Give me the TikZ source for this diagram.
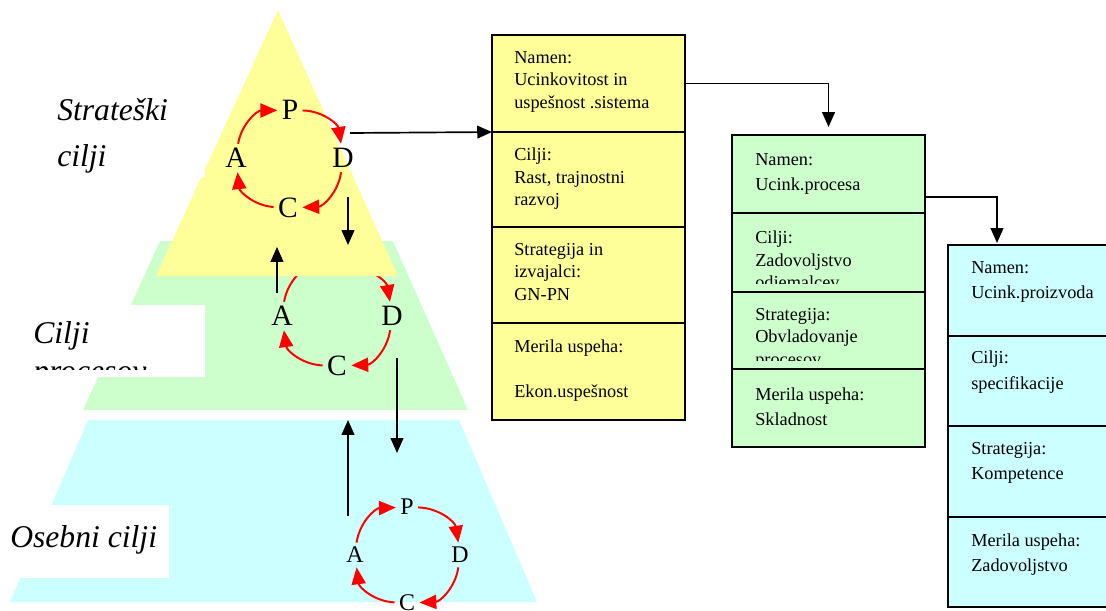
\documentclass[tikz,border=0pt]{standalone}
\usepackage{fontspec}
\setmainfont{Liberation Serif}
\usetikzlibrary{arrows.meta, positioning}
\definecolor{yellowfill}{HTML}{FFFF99}
\definecolor{greenfill}{HTML}{CCFFCC}
\definecolor{cyanfill}{HTML}{CCFFFF}
\tikzset{
	pdca/.style={font=\fontsize{21}{21}\selectfont, inner sep=3pt}, % letras del ciclo PDCA
	pdcasmall/.style={pdca, font=\fontsize{17}{17}\selectfont}, % ciclo de abajo, mas chico
	cyc/.style={red, line width=1.4pt, -{Triangle[length=12pt,width=10pt]}, bend left=40}, % flechas rojas del ciclo
	link/.style={line width=1.2pt, -{Triangle[length=10.5pt,width=9pt]}}, % flechas negras
	cell/.style={draw, line width=1pt, anchor=north west, minimum width=4.825cm, inner sep=0pt, outer sep=0pt}, % celda de las tablas
	celltext/.style={anchor=north west, align=left, inner sep=0pt, font=\fontsize{13}{16}\selectfont}, % texto de las celdas
	widetext/.style={celltext, font=\fontsize{13}{18}\selectfont}, % texto con mas interlineado
	goal/.style={align=left, inner sep=0pt, font=\itshape\fontsize{22.5}{27}\selectfont}, % nombres de los niveles
	labelbox/.style={fill=white, inner sep=0pt, outer sep=0pt, anchor=north west} % fondo blanco de los nombres
}

\begin{document}
\begin{tikzpicture}[x=0.025cm, y=-0.025cm]
	\useasboundingbox (0,0) rectangle (1106,611);
	\clip (0,0) rectangle (1106,611);
	% piramide
	\fill[cyanfill] (88,420) -- (459,420) -- (537,602) -- (10,602) -- cycle;
	\fill[greenfill] (160,241) -- (393,241) -- (468,410) -- (83,410) -- cycle;
	\node[labelbox, minimum width=4.225cm, minimum height=1.825cm] (osebbox) at (0,505) {};
	\node[goal, anchor=base west] (oseb) at (10,547) {Osebni cilji};
	% ciclo del medio
	\node[pdca] (P2) at (337,267) {P};
	\node[pdca] (A2) at (282,316) {A};
	\node[pdca] (D2) at (392,316) {D};
	\node[pdca] (C2) at (337,366) {C};
	\draw	(A2) edge[cyc] (P2)
			(P2) edge[cyc] (D2)
			(D2) edge[cyc] (C2)
			(C2) edge[cyc] (A2);
	\fill[yellowfill] (278,10) -- (398,276) -- (156,276) -- cycle;
	\node[labelbox, minimum width=5.125cm, minimum height=1.8cm] (procbox) at (0,305) {};
	\begin{scope}
		\clip (procbox.north west) rectangle ([yshift=0.2cm]procbox.south east);
		\node[goal, anchor=north west] (proc) at (33,321) {Cilji\\procesov};
	\end{scope}
	\node[labelbox, minimum width=5.125cm, minimum height=2.425cm] (stratbox) at (0,80) {};
	\node[goal, anchor=north west, font=\itshape\fontsize{22.5}{33}\selectfont] (strat) at (57,98) {Strateški\\cilji};
	% ciclo de arriba
	\node[pdca] (P1) at (290,110) {P};
	\node[pdca] (A1) at (236,158) {A};
	\node[pdca] (D1) at (343,158) {D};
	\node[pdca] (C1) at (288,208) {C};
	\draw	(A1) edge[cyc] (P1)
			(P1) edge[cyc] (D1)
			(D1) edge[cyc] (C1)
			(C1) edge[cyc] (A1);
	% ciclo de abajo
	\node[pdcasmall] (P3) at (407,507) {P};
	\node[pdcasmall] (A3) at (355,555) {A};
	\node[pdcasmall] (D3) at (460,555) {D};
	\node[pdcasmall] (C3) at (407,603) {C};
	\draw	(A3) edge[cyc] (P3)
			(P3) edge[cyc] (D3)
			(D3) edge[cyc] (C3)
			(C3) edge[cyc] (A3);
	% flechas entre niveles
	\coordinate (dn1a) at (348,197);
	\coordinate (dn1b) at (348,245);
	\coordinate (up1a) at (277,293);
	\coordinate (up1b) at (277,247);
	\coordinate (dn2a) at (397,358);
	\coordinate (dn2b) at (397,453);
	\coordinate (up2a) at (348,516);
	\coordinate (up2b) at (348,420);
	\draw[link] (dn1a) -- (dn1b);
	\draw[link] (up1a) -- (up1b);
	\draw[link] (dn2a) -- (dn2b);
	\draw[link] (up2a) -- (up2b);
	% tabla amarilla
	\node[cell, fill=yellowfill, minimum height=2.425cm] (y1) at (492,35) {};
	\node[celltext] (y1t) at ([shift={(0.55cm,-0.4cm)}]y1.north west) {Namen:\\Ucinkovitost in\\uspešnost .sistema};
	\node[cell, fill=yellowfill, minimum height=2.375cm, below=0pt of y1] (y2) {};
	\node[celltext] (y2t) at ([shift={(0.55cm,-0.4cm)}]y2.north west) {Cilji:\\Rast, trajnostni\\razvoj};
	\node[cell, fill=yellowfill, minimum height=2.4cm, below=0pt of y2] (y3) {};
	\node[celltext] (y3t) at ([shift={(0.55cm,-0.4cm)}]y3.north west) {Strategija in\\izvajalci:\\GN-PN};
	\node[cell, fill=yellowfill, minimum height=2.425cm, below=0pt of y3] (y4) {};
	\node[celltext] (y4t) at ([shift={(0.55cm,-0.4cm)}]y4.north west) {Merila uspeha:\\[16pt]Ekon.uspešnost};
	% tabla verde
	\node[cell, fill=greenfill, minimum height=1.95cm] (g1) at (732,135) {};
	\node[widetext] (g1t) at ([shift={(0.575cm,-0.45cm)}]g1.north west) {Namen:\\Ucink.procesa};
	\node[cell, fill=greenfill, minimum height=1.975cm, below=0pt of g1] (g2) {};
	\begin{scope}
		\clip (g2.north west) rectangle ([yshift=0.225cm]g2.south east);
		\node[celltext] (g2t) at ([shift={(0.575cm,-0.45cm)}]g2.north west) {Cilji:\\Zadovoljstvo\\odjemalcev};
	\end{scope}
	\node[cell, fill=greenfill, minimum height=1.925cm, below=0pt of g2] (g3) {};
	\begin{scope}
		\clip (g3.north west) rectangle ([yshift=0.225cm]g3.south east);
		\node[celltext] (g3t) at ([shift={(0.575cm,-0.4cm)}]g3.north west) {Strategija:\\Obvladovanje\\procesov};
	\end{scope}
	\node[cell, fill=greenfill, minimum height=1.95cm, below=0pt of g3] (g4) {};
	\node[widetext] (g4t) at ([shift={(0.575cm,-0.45cm)}]g4.north west) {Merila uspeha:\\Skladnost};
	% tabla celeste
	\node[cell, fill=cyanfill, minimum height=2.275cm] (c1) at (948,245) {};
	\node[widetext] (c1t) at ([shift={(0.575cm,-0.4cm)}]c1.north west) {Namen:\\Ucink.proizvoda};
	\node[cell, fill=cyanfill, minimum height=2.25cm, below=0pt of c1] (c2) {};
	\node[widetext] (c2t) at ([shift={(0.575cm,-0.375cm)}]c2.north west) {Cilji:\\specifikacije};
	\node[cell, fill=cyanfill, minimum height=2.275cm, below=0pt of c2] (c3) {};
	\node[widetext] (c3t) at ([shift={(0.575cm,-0.4cm)}]c3.north west) {Strategija:\\Kompetence};
	\node[cell, fill=cyanfill, minimum height=2.25cm, below=0pt of c3] (c4) {};
	\node[widetext] (c4t) at ([shift={(0.575cm,-0.4cm)}]c4.north west) {Merila uspeha:\\Zadovoljstvo};
	% conexiones
	\coordinate (ciljout) at (350,133);
	\draw[link] (ciljout) -- (y1.south west);
	\draw[link] (y1.east) -| ([yshift=0.2cm]g1.north);
	\draw[link] ([yshift=-0.575cm]g1.east) -| ([xshift=1.225cm,yshift=0.05cm]c1.north west);
\end{tikzpicture}
\end{document}
